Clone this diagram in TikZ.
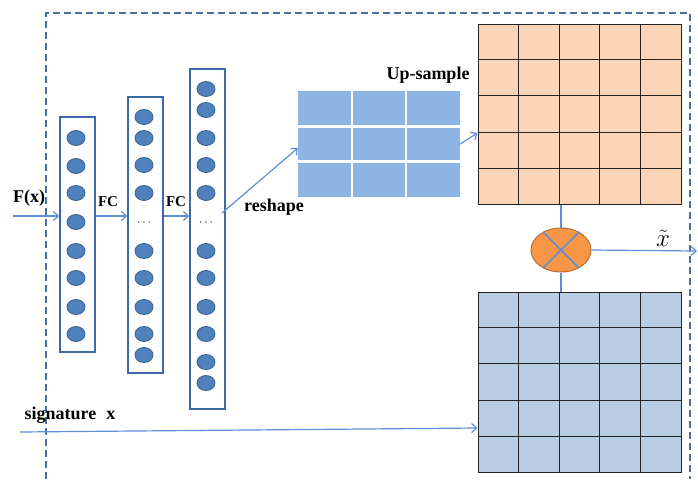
\documentclass[tikz,border=0pt]{standalone}
\usepackage{fontspec}
\setmainfont{Liberation Serif}
\usepackage{tikz}
\usetikzlibrary{arrows.meta,positioning,calc,shapes.geometric}
\definecolor{framec}{HTML}{4E6E9E}
\definecolor{linkc}{HTML}{5B8FD6}
\definecolor{layeredge}{HTML}{3C6AA8}
\definecolor{neuronfill}{HTML}{4F81BD}
\definecolor{neuronedge}{HTML}{385D8A}
\definecolor{smallfill}{HTML}{8DB4E2}
\definecolor{upfill}{HTML}{FBD5B5}
\definecolor{sigfill}{HTML}{B9CDE5}
\definecolor{gridline}{HTML}{222222}
\definecolor{mulfill}{HTML}{F79646}
\definecolor{muledge}{HTML}{B66D31}

\begin{document}
\begin{tikzpicture}[x=1pt,y=-1pt,>={Straight Barb[length=5pt,width=9pt]},
  neuron/.style={ellipse,draw=neuronedge,fill=neuronfill,line width=0.8pt,
    minimum width=18pt,minimum height=15pt,inner sep=0pt},
  layer/.style={draw=layeredge,line width=1.5pt,minimum width=35pt,inner sep=0pt},
  link/.style={draw=linkc,line width=1.2pt,->},
  lbl/.style={font=\bfseries\fontsize{18}{20}\selectfont,inner sep=0pt},
  grid/.style={draw=gridline,line width=1pt,minimum width=203pt,
    minimum height=180pt,inner sep=0pt}]
  \useasboundingbox (0,0) rectangle (698,479);

  % Outer dashed frame
  \draw[framec,line width=1.5pt,dash pattern=on 7pt off 4pt]
    (46,479) -- (46,13) -- (690,13) -- (690,479);

  % Fully connected layers
  \node[layer,minimum height=235pt] (l1) at (77.5,234.5) {};
  \node[layer,minimum height=276pt] (l2) at (145.5,235) {};
  \node[layer,minimum height=340pt] (l3) at (207.5,239) {};
  \foreach \y [count=\i] in {138,166,193,222,251,278,307,334}
    \node[neuron] (a\i) at (76,\y) {};
  \foreach \y [count=\i] in {117,138,165,193,251,278,307,334,355}
    \node[neuron] (b\i) at (144,\y) {};
  \foreach \y [count=\i] in {89,110,138,165,193,251,278,307,334,362,383}
    \node[neuron] (c\i) at (206,\y) {};
  \node[font=\fontsize{13}{13}\selectfont] (d2) at (144,223) {$\cdots$};
  \node[font=\fontsize{13}{13}\selectfont] (d3) at (206,223) {$\cdots$};

  % Reshaped map
  \node[fill=smallfill,minimum width=162pt,minimum height=106pt,inner sep=0pt]
    (rs) at (379,144) {};
  \foreach \k in {1,2} {
    \draw[white,line width=2.5pt] ($(rs.north west)!\k/3!(rs.north east)$)
      -- ($(rs.south west)!\k/3!(rs.south east)$);
    \draw[white,line width=2.5pt] ($(rs.north west)!\k/3!(rs.south west)$)
      -- ($(rs.north east)!\k/3!(rs.south east)$);
  }

  % Up-sampled map and signature map
  \node[grid,fill=upfill] (up) at (579.5,114) {};
  \node[grid,fill=sigfill] (sig) at (579.5,382) {};
  \foreach \g in {up,sig} {
    \foreach \k in {1,...,4} {
      \draw[gridline,line width=1pt] ($(\g.north west)!\k/5!(\g.north east)$)
        -- ($(\g.south west)!\k/5!(\g.south east)$);
      \draw[gridline,line width=1pt] ($(\g.north west)!\k/5!(\g.south west)$)
        -- ($(\g.north east)!\k/5!(\g.south east)$);
    }
  }

  % Element-wise product
  \node[ellipse,fill=mulfill,draw=muledge,line width=1pt,minimum width=60pt,
    minimum height=44pt] (mul) at (561,250) {};
  \draw[linkc,line width=1.5pt] (mul.45) -- (mul.225) (mul.135) -- (mul.315);
  \draw[linkc,line width=1.5pt] (mul.north |- up.south) -- (mul.north);
  \draw[linkc,line width=1.5pt] (mul.south) -- (mul.south |- sig.north);

  % Connectors
  \coordinate (fin) at (13,216);
  \draw[link] (fin) -- (fin -| l1.west);
  \draw[link] (l1.east |- fin) -- (l2.west |- fin);
  \draw[link] (l2.east |- fin) -- (l3.west |- fin);
  \coordinate (rsout) at (222,213);
  \draw[link] (rsout) -- ($(rs.west)+(0,4)$);
  \draw[link] (rs.east) -- (up.west |- 0,133);
  \coordinate (xout) at (697,251);
  \draw[link] (mul.east) -- (xout);
  \coordinate (sigin) at (20,432);
  \draw[link] (sigin) -- (sig.west |- 0,428);

  % Labels
  \node[lbl] (lfx) at (29,198) {F(x)};
  \node[lbl,font=\bfseries\fontsize{15}{16}\selectfont] (lfc1) at (108,202) {FC};
  \node[lbl,font=\bfseries\fontsize{15}{16}\selectfont] (lfc2) at (176,202) {FC};
  \node[lbl] (lrs) at (274,207) {reshape};
  \node[lbl] (lup) at (428,75) {Up-sample};
  \node[lbl] (lsig) at (70,415) {signature\hspace{10pt}x};
  \node[font=\fontsize{24}{24}\selectfont,inner sep=0pt] (lxt) at (663,238) {$\tilde{x}$};
\end{tikzpicture}
\end{document}
